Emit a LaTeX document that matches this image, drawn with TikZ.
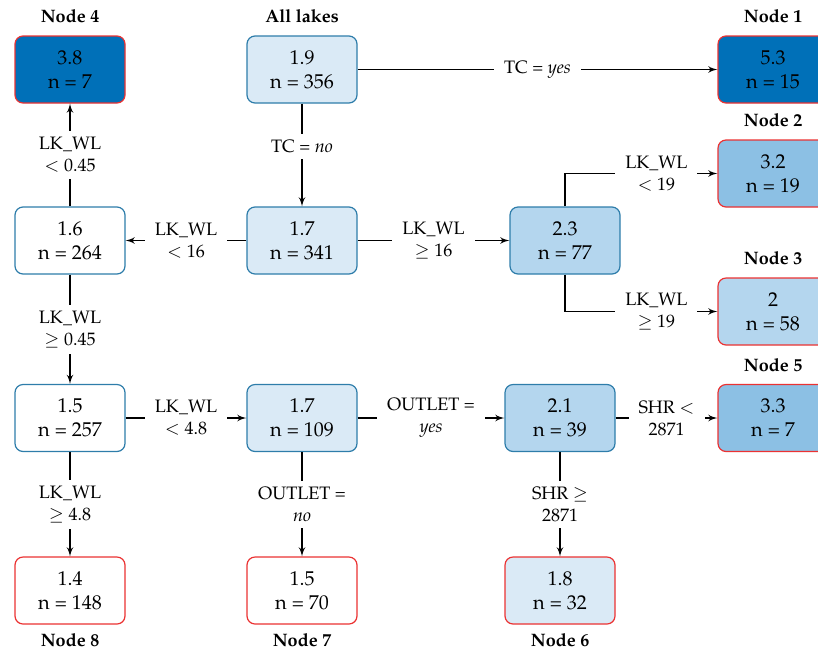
\documentclass[tikz,border=0pt]{standalone}
\usepackage[T1]{fontenc}
\usepackage{mathpazo}
\usepackage{tikz}
\usetikzlibrary{arrows,positioning}
\definecolor{bord}{RGB}{46,125,170}
\definecolor{leafbord}{RGB}{235,50,50}
\definecolor{col1}{RGB}{0,112,184}
\definecolor{col2}{RGB}{140,192,228}
\definecolor{col3}{RGB}{180,214,238}
\definecolor{col4}{RGB}{218,234,246}
\tikzstyle{split}=[draw=bord, rounded corners=4pt, minimum width=55pt, minimum height=33.5pt, align=center]
\tikzstyle{leaf}=[split, draw=leafbord]
\tikzstyle{cond}=[fill=white, font=\small, align=center, inner xsep=5pt, inner ysep=3pt]
\tikzstyle{title}=[font=\small\bfseries, inner sep=0pt]
\tikzstyle{tabove}=[label={[title,label distance=6pt]above:#1}]
\tikzstyle{tbelow}=[label={[title,label distance=4pt]below:#1}]

\begin{document}
\begin{tikzpicture}[node distance=116pt,>=latex',line width=0.6pt]
		    \useasboundingbox (0,0) rectangle (409pt,-324.5pt);
		    \node [split, fill=col4, tabove=All lakes] (a) at (151pt,-34.75pt) {1.9\\n = 356};
		    \node [leaf, fill=col1, tabove=Node 1] (n1) [right of=a,node distance=235.5pt] {5.3\\n = 15};
		    \node [leaf, fill=col1, tabove=Node 4] (n4) [left of=a] {3.8\\n = 7};
		    \node [split, fill=col4] (b) [below of=a,node distance=85.5pt] {1.7\\n = 341};
		    \node [split, fill=white] (c) [left of=b] {1.6\\n = 264};
		    \node [split, fill=col3] (d) [right of=b,node distance=131.5pt] {2.3\\n = 77};
		    \node [leaf, fill=col2, tabove=Node 2] (n2) [below of=n1,node distance=52pt] {3.2\\n = 19};
		    \node [leaf, fill=col3, tabove=Node 3] (n3) [below of=n2,node distance=69pt] {2\\n = 58};
		    \node [split, fill=white] (e) [below of=c,node distance=88.75pt] {1.5\\n = 257};
		    \node [split, fill=col4] (f) [right of=e] {1.7\\n = 109};
		    \node [split, fill=col3] (g) [right of=f,node distance=129pt] {2.1\\n = 39};
		    \node [leaf, fill=col2, tabove=Node 5] (n5) [right of=g,node distance=106.5pt] {3.3\\n = 7};
		    \node [leaf, fill=white, tbelow=Node 8] (n8) [below of=e,node distance=86.25pt] {1.4\\n = 148};
		    \node [leaf, fill=white, tbelow=Node 7] (n7) [below of=f,node distance=86.25pt] {1.5\\n = 70};
		    \node [leaf, fill=col4, tbelow=Node 6] (n6) [below of=g,node distance=86.25pt] {1.8\\n = 32};
		    \path[->]
		    (a) edge node[cond] {TC = \textit{yes}} (n1)
		    (a) edge node[cond,pos=.42] {TC = \textit{no}} (b)
		    (b) edge node[cond] {LK\_WL\\$<$ 16} (c)
		    (b) edge node[cond] {LK\_WL\\$\geq$ 16} (d)
		    (c) edge node[cond] {LK\_WL\\$<$ 0.45} (n4)
		    (c) edge node[cond] {LK\_WL\\$\geq$ 0.45} (e)
		    (e) edge node[cond] {LK\_WL\\$<$ 4.8} (f)
		    (f) edge node[cond] {OUTLET =\\\textit{yes}} (g)
		    (g) edge node[cond] {SHR $<$\\2871} (n5)
		    (e) edge node[cond] {LK\_WL\\$\geq$ 4.8} (n8)
		    (f) edge node[cond] {OUTLET =\\\textit{no}} (n7)
		    (g) edge node[cond] {SHR $\geq$\\2871} (n6);
		    \draw[->] (d) |- node[cond,pos=.8] {LK\_WL\\$<$ 19} (n2);
		    \draw[->] (d) |- node[cond,pos=.8] {LK\_WL\\$\geq$ 19} (n3);
		\end{tikzpicture}
\end{document}
